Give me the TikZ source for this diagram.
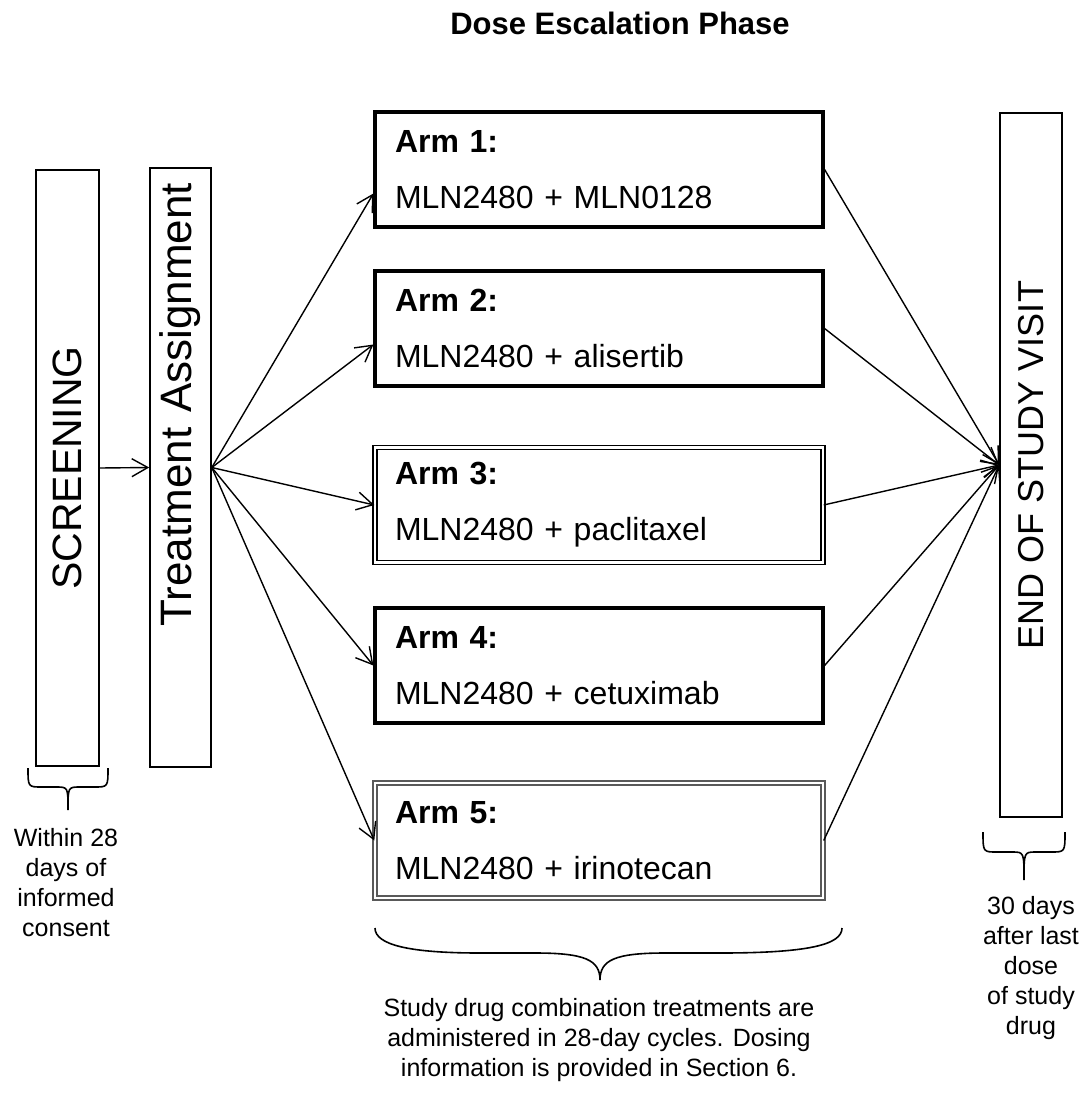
\documentclass[tikz,border=0pt]{standalone}
\usepackage{fontspec}
\setmainfont{Liberation Sans}
\usetikzlibrary{arrows.meta,positioning,calc}

\begin{document}
\begin{tikzpicture}[
    x=0.5pt, y=-0.5pt, % one unit = one pixel of the layout
    tallbox/.style={rectangle, draw, line width=0.8pt, rotate=90, inner sep=0pt},
    armbox/.style={rectangle, draw, line width=1.6pt, align=left, text width=204pt, inner xsep=10pt, minimum width=224pt, minimum height=57.5pt, font=\fontsize{16}{28}\selectfont},
    dblbox/.style={armbox, line width=0.7pt, double, double distance=1.2pt},
    connector/.style={-{Straight Barb[length=8pt,width=9pt]}, line width=0.7pt},
    brace/.style={line width=0.8pt},
    note/.style={align=center, inner sep=0pt, font=\fontsize{12.5}{15}\selectfont}
]
    \useasboundingbox (0,0) rectangle (1092,1098);

    % Title
    \node[font=\bfseries\fontsize{15.5}{18}\selectfont] (title) at (620,23) {Dose Escalation Phase};

    % Tall boxes
    \node[tallbox, minimum width=298pt, minimum height=31.5pt, font=\fontsize{20.5}{24}\selectfont] (screen) at (67.5,468) {SCREENING};
    \node[tallbox, minimum height=30.5pt, text width=284.5pt, inner xsep=7.5pt, align=right, font=\fontsize{22}{26}\selectfont] (assign) at (180.5,467.5) {Treatment Assignment};
    \node[tallbox, minimum width=352pt, minimum height=31pt, font=\fontsize{18}{22}\selectfont] (endvisit) at (1031,465) {END OF STUDY VISIT};

    % Arms
    \node[armbox] (arm1) at (599,169.5) {\textbf{Arm 1:}\\MLN2480 + MLN0128};
    \node[armbox] (arm2) at (599,328.5) {\textbf{Arm 2:}\\MLN2480 + alisertib};
    \node[dblbox] (arm3) at (599,505) {\textbf{Arm 3:}\\MLN2480 + paclitaxel};
    \node[armbox] (arm4) at (599,665.5) {\textbf{Arm 4:}\\MLN2480 + cetuximab};
    \node[dblbox, draw=black!65] (arm5) at (599,840.5) {\textbf{Arm 5:}\\MLN2480 + irinotecan};

    % Connections
    \draw [connector] (screen.south) -- (assign.north);
    \draw [connector] (assign.south) -- ([yshift=-12pt]arm1.west);
    \draw [connector] (assign.south) -- ([yshift=-8pt]arm2.west);
    \draw [connector] (assign.south) -- (arm3.west);
    \draw [connector] (assign.south) -- (arm4.west);
    \draw [connector] (assign.south) -- (arm5.west);
    \draw [connector] (arm1.east) -- (endvisit.north);
    \draw [connector] (arm2.east) -- (endvisit.north);
    \draw [connector] (arm3.east) -- (endvisit.north);
    \draw [connector] (arm4.east) -- (endvisit.north);
    \draw [connector] (arm5.east) -- (endvisit.north);

    % Braces
    \draw [brace] (28,768) .. controls (28,787) .. (42,787) -- (56,787)
        .. controls (68,787) .. (68,810) .. controls (68,787) .. (80,787)
        -- (94,787) .. controls (108,787) .. (108,768);
    \draw [brace] (375,928) .. controls (375,945) and (410,953) .. (480,953) -- (535,953)
        .. controls (585,953) and (600,960) .. (600,980)
        .. controls (600,960) and (615,953) .. (665,953) -- (720,953)
        .. controls (807,953) and (842,945) .. (842,928);
    \draw [brace] (983,832) .. controls (983,852) .. (997,852) -- (1012,852)
        .. controls (1024,852) .. (1024,880) .. controls (1024,852) .. (1036,852)
        -- (1051,852) .. controls (1065,852) .. (1065,832);

    % Notes
    \node[note, anchor=north] (within) at (66,828) {Within 28\\days of\\informed\\consent};
    \node[note, anchor=north] (after) at (1031,896) {30 days\\after last\\dose\\of study\\drug};
    \node[note, anchor=north] (cycles) at (599,998) {Study drug combination treatments are\\administered in 28-day cycles. Dosing\\information is provided in Section 6.};
\end{tikzpicture}
\end{document}
